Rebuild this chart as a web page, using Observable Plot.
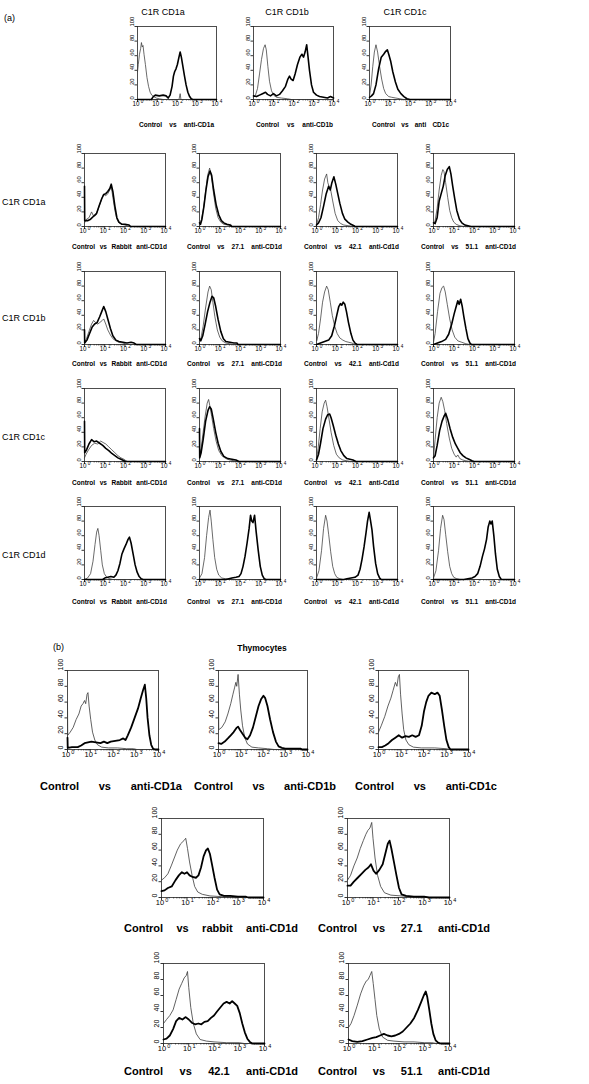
<!DOCTYPE html>
<html><head><meta charset="utf-8">
<script src="https://cdn.jsdelivr.net/npm/d3@7"></script>
<script src="https://cdn.jsdelivr.net/npm/@observablehq/plot@0.6"></script>
<style>
body{margin:0;background:#fff}
#fig{position:relative;width:589px;height:1084px;font-family:"Liberation Sans",Arial,Helvetica,sans-serif;color:#000;overflow:hidden}
.lab{position:absolute;white-space:nowrap;line-height:1}
.cap{position:absolute;display:flex;justify-content:space-between;font-weight:bold;line-height:1;white-space:nowrap;color:#000}
#fig svg{position:absolute}
</style>
</head><body><div id="fig"></div>
<script>
// ---- tick values ----
const yTicks = [0, 20, 40, 60, 80, 100];
const xDecades = [0, 1, 2, 3, 4];

// ---- text ----
const headerLabels = ["C1R CD1a", "C1R CD1b", "C1R CD1c"];
const rowLabels = ["C1R CD1a", "C1R CD1b", "C1R CD1c", "C1R CD1d"];
const topCaptions = [["Control","vs","anti-CD1a"],["Control","vs","anti-CD1b"],["Control","vs","anti","CD1c"]];
const gridCaptions = [["Control","vs","Rabbit","anti-CD1d"],["Control","vs","27.1","anti-CD1d"],["Control","vs","42.1","anti-Cd1d"],["Control","vs","51.1","anti-CD1d"]];
const thyCaptions = [["Control","vs","anti-CD1a"],["Control","vs","anti-CD1b"],["Control","vs","anti-CD1c"],["Control","vs","rabbit","anti-CD1d"],["Control","vs","27.1","anti-CD1d"],["Control","vs","42.1","anti-CD1d"],["Control","vs","51.1","anti-CD1d"]];

// ---- histogram curves: [log10 fluorescence, % of max] ----
// (a) top row
const topA_ctrl = [[0,38],[0.04,48],[0.1,62],[0.16,70],[0.2,78],[0.24,72],[0.28,74],[0.33,62],[0.4,48],[0.48,30],[0.56,18],[0.64,10],[0.72,6],[0.82,4],[0.95,2],[1.1,1],[1.3,0],[2.1,0],[2.16,8],[2.2,0],[4,0]];
const topA_test = [[0,0],[0.7,0],[0.8,4],[0.9,6],[1.1,5],[1.3,6],[1.45,5],[1.55,2],[1.65,6],[1.75,18],[1.82,32],[1.88,38],[1.95,42],[2.02,48],[2.1,58],[2.16,65],[2.22,58],[2.3,45],[2.38,32],[2.46,20],[2.55,10],[2.64,4],[2.72,1],[2.8,0],[4,0]];
const topB_ctrl = [[0,3],[0.1,6],[0.2,15],[0.3,35],[0.4,55],[0.5,70],[0.58,75],[0.64,68],[0.72,45],[0.8,25],[0.9,12],[1.0,6],[1.15,3],[1.4,2],[1.7,1],[1.9,0],[4,0]];
const topB_test = [[0,5],[0.15,4],[0.3,6],[0.45,8],[0.6,10],[0.7,7],[0.85,5],[1.0,8],[1.15,5],[1.3,7],[1.45,12],[1.6,18],[1.72,28],[1.8,32],[1.88,28],[1.98,26],[2.08,35],[2.2,48],[2.32,58],[2.42,62],[2.5,58],[2.58,65],[2.66,75],[2.72,60],[2.8,40],[2.9,20],[3.0,10],[3.15,6],[3.3,4],[3.5,3],[3.7,2],[3.85,4],[4,2]];
const topC_ctrl = [[0,5],[0.08,20],[0.16,45],[0.24,65],[0.32,75],[0.4,65],[0.5,45],[0.6,28],[0.7,15],[0.8,8],[0.95,4],[1.1,3],[1.3,2],[1.5,1],[1.7,0],[4,0]];
const topC_test = [[0,3],[0.1,5],[0.2,8],[0.32,20],[0.45,42],[0.58,58],[0.7,62],[0.8,66],[0.88,68],[0.95,62],[1.05,52],[1.15,38],[1.28,24],[1.4,14],[1.55,8],[1.7,4],[1.85,1],[2.0,0],[4,0]];

// (a) grid row C1R CD1a
const g1_rab_ctrl = [[0,5],[0.1,10],[0.22,12],[0.35,20],[0.45,14],[0.55,15],[0.65,22],[0.75,30],[0.85,38],[0.95,44],[1.05,42],[1.15,45],[1.25,50],[1.32,55],[1.4,40],[1.5,22],[1.6,10],[1.7,5],[1.85,3],[2.0,2],[2.2,0],[4,0]];
const g1_rab_test = [[0,55],[0.01,8],[0.15,8],[0.3,10],[0.45,14],[0.6,18],[0.72,28],[0.85,38],[0.95,44],[1.05,45],[1.15,48],[1.25,52],[1.32,58],[1.4,48],[1.5,28],[1.6,12],[1.7,6],[1.85,3],[2.0,3],[2.2,2],[2.28,0],[4,0]];
const g1_27_ctrl = [[0,3],[0.1,10],[0.2,25],[0.3,48],[0.4,70],[0.5,80],[0.58,70],[0.68,48],[0.8,25],[0.92,12],[1.05,6],[1.2,3],[1.4,2],[1.55,3],[1.6,0],[4,0]];
const g1_27_test = [[0,5],[0.05,3],[0.12,10],[0.22,28],[0.32,50],[0.42,68],[0.52,76],[0.6,70],[0.7,50],[0.82,30],[0.95,16],[1.08,8],[1.2,5],[1.35,3],[1.5,2],[1.6,0],[4,0]];
const g1_42_ctrl = [[0,3],[0.1,12],[0.2,30],[0.3,50],[0.4,65],[0.5,72],[0.56,60],[0.62,55],[0.7,50],[0.8,35],[0.92,18],[1.05,8],[1.2,4],[1.35,2],[1.6,1],[1.8,0],[4,0]];
const g1_42_test = [[0,2],[0.1,5],[0.22,12],[0.35,28],[0.48,45],[0.6,55],[0.68,50],[0.76,60],[0.86,68],[0.95,58],[1.05,45],[1.15,32],[1.28,18],[1.4,10],[1.55,6],[1.7,3],[1.85,1],[1.9,0],[4,0]];
const g1_51_ctrl = [[0,3],[0.08,8],[0.18,25],[0.28,50],[0.38,70],[0.46,78],[0.52,75],[0.6,60],[0.7,40],[0.8,22],[0.9,12],[1.0,6],[1.12,3],[1.3,1],[1.5,0],[4,0]];
const g1_51_test = [[0,5],[0.08,4],[0.18,12],[0.28,35],[0.38,45],[0.48,55],[0.58,70],[0.68,78],[0.78,82],[0.86,72],[0.95,55],[1.05,38],[1.15,22],[1.28,10],[1.4,5],[1.55,2],[1.7,1],[1.85,0],[4,0]];

// (a) grid row C1R CD1b
const g2_rab_ctrl = [[0,3],[0.1,8],[0.22,18],[0.35,28],[0.45,33],[0.55,30],[0.65,28],[0.75,30],[0.88,33],[0.95,35],[1.05,28],[1.15,20],[1.28,13],[1.4,8],[1.55,5],[1.7,3],[1.9,2],[2.1,0],[4,0]];
const g2_rab_test = [[0,20],[0.01,2],[0.12,6],[0.25,15],[0.38,24],[0.5,28],[0.62,30],[0.75,38],[0.85,45],[0.95,52],[1.05,45],[1.15,35],[1.28,22],[1.4,12],[1.55,6],[1.7,4],[1.9,3],[2.1,2],[2.3,3],[2.45,2],[2.55,0],[4,0]];
const g2_27_ctrl = [[0,5],[0.08,10],[0.18,25],[0.3,50],[0.42,72],[0.5,80],[0.58,75],[0.66,58],[0.76,38],[0.88,20],[1.0,10],[1.12,5],[1.3,2],[1.5,1],[1.65,0],[4,0]];
const g2_27_test = [[0,8],[0.06,5],[0.16,12],[0.28,28],[0.4,45],[0.52,58],[0.62,66],[0.7,64],[0.8,52],[0.92,34],[1.05,18],[1.18,8],[1.3,4],[1.5,3],[1.7,2],[1.85,2],[1.9,0],[4,0]];
const g2_42_ctrl = [[0,15],[0.01,5],[0.1,15],[0.2,35],[0.3,58],[0.4,72],[0.5,80],[0.58,75],[0.68,58],[0.78,40],[0.9,25],[1.02,15],[1.15,9],[1.3,6],[1.45,4],[1.6,3],[1.75,2],[1.9,0],[4,0]];
const g2_42_test = [[0,0],[0.2,2],[0.4,4],[0.6,6],[0.75,12],[0.88,25],[1.0,40],[1.1,52],[1.18,56],[1.25,54],[1.32,58],[1.4,55],[1.48,45],[1.58,30],[1.7,15],[1.8,6],[1.9,2],[2.0,0],[4,0]];
const g2_51_ctrl = [[0,3],[0.08,15],[0.2,45],[0.32,70],[0.42,78],[0.5,80],[0.58,72],[0.68,55],[0.8,35],[0.92,20],[1.05,10],[1.2,5],[1.4,3],[1.6,1],[1.8,0],[4,0]];
const g2_51_test = [[0,0],[0.2,2],[0.4,4],[0.6,7],[0.75,14],[0.9,28],[1.02,42],[1.12,52],[1.2,60],[1.27,55],[1.34,62],[1.42,52],[1.5,38],[1.6,22],[1.7,8],[1.8,2],[1.88,0],[4,0]];

// (a) grid row C1R CD1c
const g3_rab_ctrl = [[0,5],[0.08,10],[0.2,16],[0.35,22],[0.5,25],[0.65,24],[0.8,28],[0.92,26],[1.05,24],[1.2,20],[1.35,16],[1.5,12],[1.65,8],[1.8,5],[1.95,3],[2.05,1],[2.12,0],[4,0]];
const g3_rab_test = [[0,55],[0.01,12],[0.1,16],[0.22,24],[0.35,30],[0.48,27],[0.6,28],[0.75,25],[0.9,22],[1.05,18],[1.2,15],[1.35,11],[1.5,8],[1.65,5],[1.8,3],[1.95,1],[2.0,0],[4,0]];
const g3_27_ctrl = [[0,5],[0.08,18],[0.18,40],[0.28,62],[0.38,80],[0.45,85],[0.52,75],[0.6,62],[0.7,45],[0.82,28],[0.95,15],[1.1,8],[1.3,4],[1.5,2],[1.7,1],[1.85,0],[4,0]];
const g3_27_test = [[0,45],[0.01,5],[0.08,12],[0.18,30],[0.3,55],[0.42,70],[0.5,75],[0.58,72],[0.68,58],[0.8,40],[0.92,25],[1.05,14],[1.2,7],[1.4,4],[1.6,3],[1.8,2],[1.95,0],[4,0]];
const g3_42_ctrl = [[0,3],[0.08,18],[0.18,45],[0.28,68],[0.38,80],[0.45,84],[0.52,75],[0.62,58],[0.72,40],[0.85,22],[0.98,10],[1.12,5],[1.3,2],[1.5,1],[1.7,0],[4,0]];
const g3_42_test = [[0,2],[0.1,10],[0.2,25],[0.32,45],[0.45,58],[0.55,64],[0.65,65],[0.72,60],[0.82,50],[0.95,36],[1.08,24],[1.2,15],[1.35,8],[1.5,4],[1.65,3],[1.8,2],[1.95,0],[4,0]];
const g3_51_ctrl = [[0,5],[0.08,30],[0.18,60],[0.28,80],[0.38,88],[0.46,82],[0.55,70],[0.65,52],[0.78,32],[0.9,18],[1.02,10],[1.12,6],[1.2,9],[1.3,4],[1.45,2],[1.6,1],[1.8,0],[4,0]];
const g3_51_test = [[0,5],[0.08,8],[0.18,22],[0.3,42],[0.42,55],[0.52,62],[0.6,66],[0.7,58],[0.82,45],[0.95,33],[1.08,24],[1.2,18],[1.32,12],[1.45,8],[1.6,5],[1.75,3],[1.9,1],[2.0,0],[4,0]];

// (a) grid row C1R CD1d
const g4_rab_ctrl = [[0,0],[0.15,2],[0.3,8],[0.42,25],[0.52,48],[0.6,65],[0.66,70],[0.72,60],[0.8,40],[0.88,20],[0.98,8],[1.1,3],[1.25,1],[1.4,0],[4,0]];
const g4_rab_test = [[0,0],[0.9,0],[1.0,2],[1.15,3],[1.3,4],[1.45,3],[1.55,6],[1.65,12],[1.75,22],[1.85,35],[1.95,42],[2.05,48],[2.15,55],[2.22,58],[2.3,50],[2.4,35],[2.5,20],[2.6,10],[2.7,4],[2.8,1],[2.9,0],[4,0]];
const g4_27_ctrl = [[0,2],[0.12,8],[0.25,30],[0.35,60],[0.45,85],[0.52,95],[0.58,80],[0.66,55],[0.75,30],[0.85,14],[0.95,6],[1.1,2],[1.3,1],[1.5,0],[4,0]];
const g4_27_test = [[0,0],[1.3,0],[1.45,1],[1.6,2],[1.8,3],[1.95,4],[2.05,8],[2.15,18],[2.25,32],[2.35,50],[2.45,70],[2.52,88],[2.58,80],[2.64,78],[2.72,88],[2.8,65],[2.9,40],[3.0,18],[3.1,6],[3.2,1],[3.28,0],[4,0]];
const g4_42_ctrl = [[0,2],[0.12,12],[0.25,40],[0.35,70],[0.45,88],[0.52,80],[0.6,62],[0.7,38],[0.8,18],[0.9,8],[1.0,3],[1.15,1],[1.3,0],[4,0]];
const g4_42_test = [[0,0],[1.35,0],[1.5,1],[1.7,2],[1.9,3],[2.05,6],[2.15,14],[2.25,28],[2.35,45],[2.45,65],[2.52,80],[2.6,92],[2.66,82],[2.74,68],[2.82,45],[2.92,22],[3.02,8],[3.12,2],[3.2,0],[4,0]];
const g4_51_ctrl = [[0,2],[0.12,12],[0.25,40],[0.35,70],[0.45,88],[0.52,82],[0.6,62],[0.7,38],[0.8,18],[0.9,8],[1.0,3],[1.15,1],[1.3,0],[4,0]];
const g4_51_test = [[0,0],[1.5,0],[1.7,1],[1.9,2],[2.05,4],[2.18,8],[2.3,18],[2.42,32],[2.52,42],[2.62,55],[2.7,72],[2.78,80],[2.84,76],[2.9,80],[2.98,60],[3.06,35],[3.15,14],[3.25,4],[3.35,0],[4,0]];

// (b) thymocytes
const thyA_ctrl = [[0,60],[0.01,18],[0.12,22],[0.25,28],[0.38,38],[0.5,45],[0.6,55],[0.68,58],[0.75,62],[0.8,58],[0.86,70],[0.9,72],[0.95,55],[1.02,38],[1.1,22],[1.2,12],[1.32,6],[1.5,3],[1.8,2],[2.2,2],[2.6,1],[2.9,1],[3.05,0],[4,0]];
const thyA_test = [[0,15],[0.01,2],[0.2,3],[0.45,3],[0.6,5],[0.75,8],[0.9,9],[1.05,10],[1.25,9],[1.45,8],[1.6,10],[1.75,8],[1.9,10],[2.1,11],[2.3,12],[2.45,14],[2.55,12],[2.65,18],[2.8,28],[2.95,40],[3.1,52],[3.22,65],[3.32,75],[3.4,82],[3.46,65],[3.52,40],[3.6,18],[3.68,6],[3.76,1],[3.85,0],[4,0]];
const thyB_ctrl = [[0,60],[0.01,25],[0.15,28],[0.3,35],[0.42,45],[0.55,58],[0.65,70],[0.72,78],[0.78,85],[0.82,80],[0.88,95],[0.94,70],[1.0,50],[1.08,30],[1.18,15],[1.3,7],[1.5,3],[1.8,2],[2.2,1],[2.5,0],[4,0]];
const thyB_test = [[0,8],[0.12,7],[0.28,10],[0.42,14],[0.55,18],[0.68,22],[0.8,27],[0.88,29],[0.96,25],[1.08,20],[1.2,15],[1.3,13],[1.42,18],[1.55,28],[1.68,42],[1.8,55],[1.92,64],[2.02,68],[2.1,65],[2.2,55],[2.32,38],[2.45,22],[2.58,10],[2.7,4],[2.85,2],[3.0,1],[3.7,1],[3.75,0],[4,0]];
const thyC_ctrl = [[0,22],[0.12,30],[0.28,42],[0.42,55],[0.55,65],[0.65,75],[0.75,85],[0.82,80],[0.88,92],[0.93,95],[0.98,70],[1.05,45],[1.12,25],[1.22,12],[1.35,6],[1.55,3],[1.9,2],[2.5,2],[3.0,1],[3.2,0],[4,0]];
const thyC_test = [[0,3],[0.15,3],[0.3,5],[0.45,8],[0.6,12],[0.75,15],[0.9,18],[1.05,15],[1.2,17],[1.35,16],[1.5,18],[1.65,16],[1.8,18],[1.92,30],[2.02,48],[2.12,60],[2.22,68],[2.35,72],[2.5,70],[2.62,72],[2.72,68],[2.82,50],[2.92,30],[3.02,12],[3.12,3],[3.2,0],[4,0]];
const thyRab_ctrl = [[0,22],[0.12,25],[0.25,30],[0.38,40],[0.5,50],[0.62,60],[0.75,68],[0.88,72],[0.95,75],[1.02,62],[1.1,45],[1.2,28],[1.3,14],[1.42,7],[1.6,4],[1.9,2],[2.4,1],[2.8,1],[3.0,0],[4,0]];
const thyRab_test = [[0,8],[0.12,9],[0.25,12],[0.4,14],[0.55,22],[0.68,28],[0.8,32],[0.9,30],[1.0,32],[1.1,28],[1.22,26],[1.35,25],[1.45,28],[1.55,38],[1.65,52],[1.75,60],[1.82,62],[1.9,55],[1.98,42],[2.08,25],[2.18,10],[2.28,4],[2.45,2],[2.7,2],[3.0,1],[3.3,1],[3.4,0],[4,0]];
const thy27_ctrl = [[0,22],[0.12,28],[0.25,40],[0.38,50],[0.5,62],[0.62,72],[0.72,80],[0.8,85],[0.88,88],[0.95,95],[1.0,75],[1.08,50],[1.18,28],[1.3,14],[1.45,6],[1.7,3],[2.1,2],[2.6,1],[3.0,0],[4,0]];
const thy27_test = [[0,15],[0.12,15],[0.25,20],[0.4,25],[0.55,30],[0.7,35],[0.82,38],[0.92,42],[1.02,34],[1.12,30],[1.25,35],[1.38,42],[1.48,55],[1.58,68],[1.65,72],[1.72,62],[1.82,45],[1.92,28],[2.02,12],[2.12,4],[2.3,2],[2.6,1],[3.0,1],[3.2,0],[4,0]];
const thy42_ctrl = [[0,25],[0.12,30],[0.25,35],[0.38,42],[0.5,55],[0.62,68],[0.72,75],[0.82,82],[0.9,85],[0.95,90],[1.0,70],[1.08,45],[1.18,25],[1.3,12],[1.45,5],[1.7,3],[2.0,2],[2.5,1],[3.0,1],[3.2,0],[4,0]];
const thy42_test = [[0,5],[0.12,6],[0.25,10],[0.38,18],[0.5,28],[0.62,32],[0.75,30],[0.88,33],[1.0,30],[1.12,26],[1.25,24],[1.38,25],[1.5,24],[1.62,27],[1.75,28],[1.88,32],[2.0,35],[2.12,40],[2.25,45],[2.38,50],[2.5,52],[2.62,50],[2.72,53],[2.82,50],[2.92,47],[3.02,38],[3.12,25],[3.22,14],[3.32,6],[3.42,2],[3.52,0],[4,0]];
const thy51_ctrl = [[0,20],[0.1,25],[0.22,35],[0.35,48],[0.48,62],[0.6,72],[0.7,78],[0.78,80],[0.85,85],[0.92,90],[0.98,75],[1.05,55],[1.12,35],[1.22,18],[1.35,8],[1.55,4],[1.8,3],[2.2,2],[2.6,2],[3.0,1],[3.3,1],[3.5,0],[4,0]];
const thy51_test = [[0,5],[0.15,3],[0.35,2],[0.55,3],[0.75,5],[0.95,7],[1.1,8],[1.25,10],[1.4,12],[1.55,10],[1.7,9],[1.85,10],[2.0,12],[2.15,15],[2.3,20],[2.45,25],[2.6,32],[2.75,42],[2.88,52],[2.98,60],[3.06,65],[3.12,58],[3.2,42],[3.28,25],[3.36,12],[3.45,4],[3.55,1],[3.65,0],[4,0]];

// ---- layout ----
const fig = document.getElementById("fig");
const FONT = '"Liberation Sans", Arial, Helvetica, sans-serif';

function label(text, x, y, {size = 9, bold = false, anchor = "middle"} = {}) {
  const d = document.createElement("div");
  d.className = "lab";
  d.textContent = text;
  d.style.fontSize = size + "px";
  if (bold) d.style.fontWeight = "bold";
  d.style.left = x + "px";
  d.style.top = y + "px";
  d.style.transform = anchor === "middle" ? "translate(-50%,-50%)" : "translate(0,-50%)";
  fig.appendChild(d);
}
function caption(words, x0, x1, y, size) {
  const d = document.createElement("div");
  d.className = "cap";
  d.style.left = x0 + "px";
  d.style.width = (x1 - x0) + "px";
  d.style.top = (y - size / 2) + "px";
  d.style.fontSize = size + "px";
  for (const w of words) { const s = document.createElement("span"); s.textContent = w; d.appendChild(s); }
  fig.appendChild(d);
}

const minorTicks = [];
for (let k = 0; k < 4; k++) for (let m = 2; m < 10; m++) minorTicks.push(m * 10 ** k);

function panel(box, ctrl, test, big) {
  const [x0, y0, x1, y1] = box;
  const mL = 18, mR = 8, mT = 4, mB = 16;
  const fsY = big ? 7 : 5.8, fsX = big ? 7.5 : 6.3, fsS = big ? 5.5 : 4.6;
  const pts = a => a.map(([e, v]) => ({x: 10 ** e, y: v}));
  const dec = xDecades.map(e => 10 ** e);
  const svg = Plot.plot({
    width: x1 - x0 + mL + mR, height: y1 - y0 + mT + mB,
    marginLeft: mL, marginRight: mR, marginTop: mT, marginBottom: mB,
    style: {fontFamily: FONT, background: "none", overflow: "visible"},
    x: {type: "log", domain: [1, 1e4]},
    y: {domain: [0, 100]},
    marks: [
      Plot.axisX({ticks: minorTicks, tickSize: 1.5, tickFormat: () => "", strokeWidth: 0.6, label: null}),
      Plot.axisX({ticks: dec, tickSize: 3, tickFormat: () => "", strokeWidth: 0.8, label: null}),
      Plot.axisY({ticks: yTicks, tickSize: 2.5, tickFormat: () => "", strokeWidth: 0.8, label: null}),
      Plot.text(dec, {x: d => d, frameAnchor: "bottom", text: () => "10", dy: big ? 7.5 : 6.5, dx: -1.5, fontSize: fsX}),
      Plot.text(dec, {x: d => d, frameAnchor: "bottom", text: d => String(Math.round(Math.log10(d))), dy: big ? 4 : 3.5, dx: big ? 3.8 : 3.2, textAnchor: "start", fontSize: fsS}),
      Plot.text(yTicks, {y: d => d, frameAnchor: "left", text: d => String(d), rotate: -90, dx: big ? -6.5 : -5.5, fontSize: fsY}),
      Plot.frame({stroke: "#222", strokeWidth: 0.8}),
      Plot.line(pts(ctrl), {x: "x", y: "y", stroke: "#3a3a3a", strokeWidth: big ? 0.8 : 0.75}),
      Plot.line(pts(test), {x: "x", y: "y", stroke: "#000", strokeWidth: big ? 1.8 : 1.6})
    ]
  });
  svg.style.left = (x0 - mL) + "px";
  svg.style.top = (y0 - mT) + "px";
  fig.appendChild(svg);
}

// (a)
label("(a)", 4, 18, {anchor: "start"});
const headerX = [163, 287, 405];
headerLabels.forEach((t, i) => label(t, headerX[i], 12));

const topBoxes = [[137, 26, 216, 99], [253, 26, 333, 99], [369, 26, 450, 99]];
const topCurves = [[topA_ctrl, topA_test], [topB_ctrl, topB_test], [topC_ctrl, topC_test]];
topBoxes.forEach((b, i) => panel(b, topCurves[i][0], topCurves[i][1], false));
const topCapX = [[139, 214], [256, 333], [372, 449]];
topCaptions.forEach((w, i) => caption(w, topCapX[i][0], topCapX[i][1], 125, 6.5));

const colLeft = [84, 199, 316, 433];
const rowTop = [153, 271, 388, 506];
const boxW = 81, boxH = 73;
const rowY = [202, 318, 437, 555];
const capY = [247, 364, 483, 602];
const gridCurves = [
  [[g1_rab_ctrl, g1_rab_test], [g1_27_ctrl, g1_27_test], [g1_42_ctrl, g1_42_test], [g1_51_ctrl, g1_51_test]],
  [[g2_rab_ctrl, g2_rab_test], [g2_27_ctrl, g2_27_test], [g2_42_ctrl, g2_42_test], [g2_51_ctrl, g2_51_test]],
  [[g3_rab_ctrl, g3_rab_test], [g3_27_ctrl, g3_27_test], [g3_42_ctrl, g3_42_test], [g3_51_ctrl, g3_51_test]],
  [[g4_rab_ctrl, g4_rab_test], [g4_27_ctrl, g4_27_test], [g4_42_ctrl, g4_42_test], [g4_51_ctrl, g4_51_test]]
];
rowLabels.forEach((t, r) => {
  label(t, 2, rowY[r], {anchor: "start"});
  colLeft.forEach((cx, c) => {
    panel([cx, rowTop[r], cx + boxW, rowTop[r] + boxH], gridCurves[r][c][0], gridCurves[r][c][1], false);
    caption(gridCaptions[c], cx - 12, cx + boxW + 2, capY[r], 6.5);
  });
});

// (b)
label("(b)", 53, 647, {anchor: "start"});
label("Thymocytes", 262, 648, {size: 8.5, bold: true});
const thyBoxes = [[67, 670, 158, 749], [218, 670, 307, 749], [378, 670, 468, 749],
                  [161, 818, 263, 897], [347, 818, 449, 897],
                  [163, 963, 264, 1043], [348, 963, 449, 1043]];
const thyCurves = [[thyA_ctrl, thyA_test], [thyB_ctrl, thyB_test], [thyC_ctrl, thyC_test],
                   [thyRab_ctrl, thyRab_test], [thy27_ctrl, thy27_test],
                   [thy42_ctrl, thy42_test], [thy51_ctrl, thy51_test]];
thyBoxes.forEach((b, i) => panel(b, thyCurves[i][0], thyCurves[i][1], true));
const thyCapPos = [[40, 182, 786], [194, 336, 786], [355, 497, 786],
                   [124, 298, 928], [318, 490, 928],
                   [124, 298, 1071], [318, 490, 1071]];
thyCaptions.forEach((w, i) => caption(w, thyCapPos[i][0], thyCapPos[i][1], thyCapPos[i][2], 11));
</script>
</body></html>
